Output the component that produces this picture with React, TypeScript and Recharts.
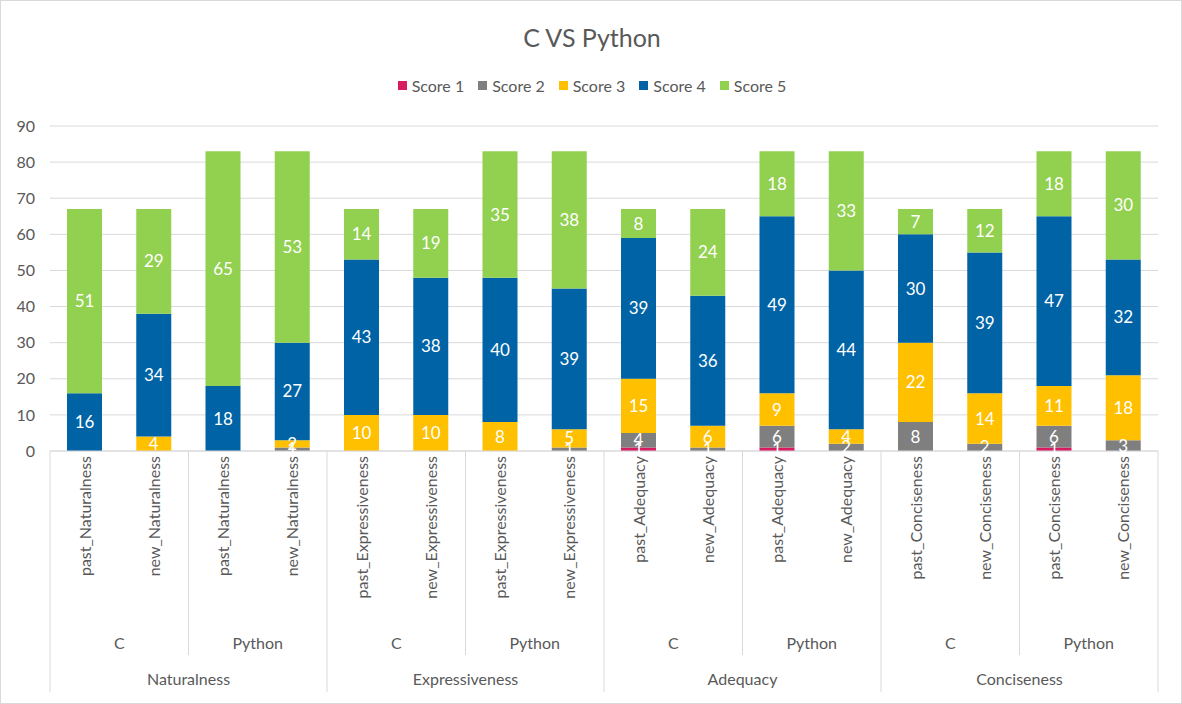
import React from 'react'
import { BarChart, Bar, XAxis, YAxis, CartesianGrid, LabelList } from 'recharts'

document.body.style.margin = '0'

// bars, left to right
const names = [
  'past_Naturalness', 'new_Naturalness', 'past_Naturalness', 'new_Naturalness',
  'past_Expressiveness', 'new_Expressiveness', 'past_Expressiveness', 'new_Expressiveness',
  'past_Adequacy', 'new_Adequacy', 'past_Adequacy', 'new_Adequacy',
  'past_Conciseness', 'new_Conciseness', 'past_Conciseness', 'new_Conciseness',
]
const langs = ['C', 'Python']
const groups = ['Naturalness', 'Expressiveness', 'Adequacy', 'Conciseness']

const score1 = [0, 0, 0, 0, 0, 0, 0, 0, 1, 0, 1, 0, 0, 0, 1, 0]
const score2 = [0, 0, 0, 1, 0, 0, 0, 1, 4, 1, 6, 2, 8, 2, 6, 3]
const score3 = [0, 4, 0, 2, 10, 10, 8, 5, 15, 6, 9, 4, 22, 14, 11, 18]
const score4 = [16, 34, 18, 27, 43, 38, 40, 39, 39, 36, 49, 44, 30, 39, 47, 32]
const score5 = [51, 29, 65, 53, 14, 19, 35, 38, 8, 24, 18, 33, 7, 12, 18, 30]

const yTicks = [0, 10, 20, 30, 40, 50, 60, 70, 80, 90]

const data = names.map((name, i) => ({
  name,
  s1: score1[i], s2: score2[i], s3: score3[i], s4: score4[i], s5: score5[i],
}))

const series = [
  { key: 's1', name: 'Score 1', color: '#D81B60' },
  { key: 's2', name: 'Score 2', color: '#7F7F7F' },
  { key: 's3', name: 'Score 3', color: '#FFC000' },
  { key: 's4', name: 'Score 4', color: '#0063A6' },
  { key: 's5', name: 'Score 5', color: '#92D050' },
]

const W = 1182
const H = 704
const margin = { top: 126, right: 24, left: 0, bottom: 12 }
const yWidth = 50
const bw = (W - margin.left - margin.right - yWidth) / names.length
const FONT = 'Lato, "Open Sans", sans-serif'
const TXT = '#595959'
const LINE = '#D9D9D9'

function CategoryTick(props: any) {
  const { x, y, payload, index } = props
  const parts: any[] = []
  parts.push(
    <text key="n" x={0} y={0} transform={`translate(${x + 6},${y + 5}) rotate(-90)`}
      textAnchor="end" fontSize={16} fill={TXT} fontFamily={FONT}>{payload.value}</text>
  )
  if (index % 2 === 0) {
    const long = index % 4 === 0
    parts.push(<line key="l" x1={x - bw / 2} x2={x - bw / 2} y1={y} y2={y + (long ? 241 : 204)} stroke={LINE} />)
    parts.push(
      <text key="lg" x={x + bw / 2} y={y + 198} textAnchor="middle" fontSize={16} fill={TXT} fontFamily={FONT}>
        {langs[(index / 2) % 2]}
      </text>
    )
    if (long) {
      parts.push(
        <text key="g" x={x + 1.5 * bw} y={y + 234} textAnchor="middle" fontSize={16} fill={TXT} fontFamily={FONT}>
          {groups[index / 4]}
        </text>
      )
    }
  }
  if (index === names.length - 1) {
    parts.push(<line key="r" x1={x + bw / 2} x2={x + bw / 2} y1={y} y2={y + 241} stroke={LINE} />)
  }
  return <g>{parts}</g>
}

export default function App() {
  return (
    <div style={{ position: 'relative', width: W, height: H, boxSizing: 'border-box', border: `1px solid ${LINE}`, background: '#fff', fontFamily: FONT }}>
      <div style={{ position: 'absolute', top: 21, left: 0, width: W, textAlign: 'center', fontSize: 25, color: TXT }}>
        C VS Python
      </div>
      <div style={{ position: 'absolute', top: 75, left: 0, width: W, display: 'flex', justifyContent: 'center', gap: 14, fontSize: 16, color: TXT }}>
        {series.map(s => (
          <div key={s.key} style={{ display: 'flex', alignItems: 'center', gap: 5 }}>
            <span style={{ width: 9, height: 9, background: s.color, display: 'inline-block' }} />
            {s.name}
          </div>
        ))}
      </div>
      <div style={{ position: 'absolute', top: -1, left: -1 }}>
        <BarChart width={W} height={H} data={data} margin={margin}>
          <CartesianGrid vertical={false} stroke={LINE} />
          <XAxis dataKey="name" interval={0} height={241} tickLine={false} tickSize={0} tickMargin={0}
            axisLine={{ stroke: LINE }} tick={<CategoryTick />} />
          <YAxis width={yWidth} domain={[0, 90]} ticks={yTicks} axisLine={false} tickLine={false}
            tickSize={0} tickMargin={15} tick={{ fontSize: 16, fill: TXT, fontFamily: FONT }} />
          {series.map(s => (
            <Bar key={s.key} dataKey={s.key} name={s.name} stackId="a" fill={s.color} barSize={35} isAnimationActive={false}>
              <LabelList dataKey={s.key} position="center" fill="#fff" fontSize={17} fontFamily={FONT} />
            </Bar>
          ))}
        </BarChart>
      </div>
    </div>
  )
}
